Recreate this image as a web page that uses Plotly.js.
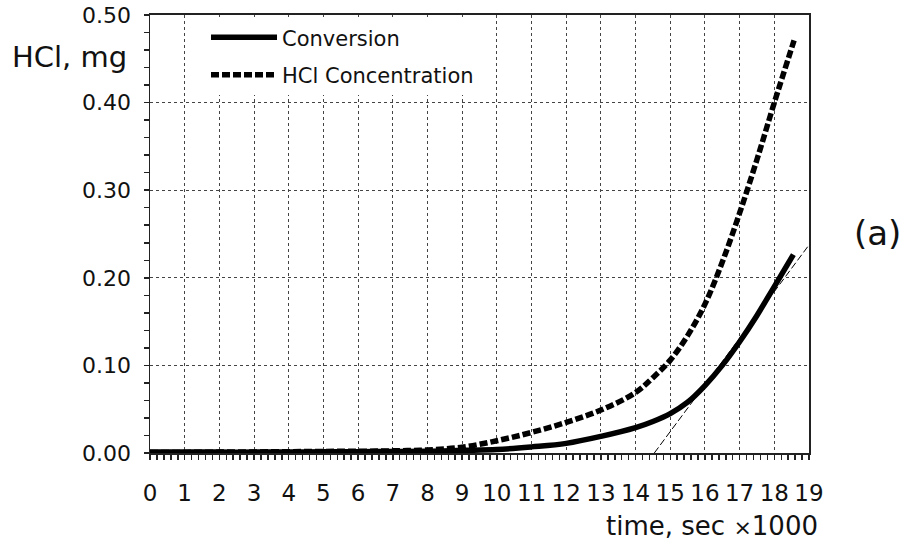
<!DOCTYPE html>
<html>
<head>
<meta charset="utf-8">
<script src="https://cdn.plot.ly/plotly-3.0.1.min.js"></script>
<style>
  html, body { margin: 0; padding: 0; background: #ffffff; }
  #chart { width: 912px; height: 549px; }
</style>
</head>
<body>
<div id="chart"></div>
<script>
// ---- data (time in sec x1000, HCl in mg) ----
const conversionTime = [0, 1, 2, 3, 4, 5, 6, 7, 8, 9, 10, 11, 12, 13, 14, 14.5, 15, 15.5, 16, 16.5, 17, 17.5, 18, 18.55];
const conversionHCl  = [0.001, 0.001, 0.001, 0.001, 0.0012, 0.0013, 0.0015, 0.0018, 0.002, 0.003, 0.004, 0.007, 0.011, 0.019, 0.029, 0.036, 0.045, 0.058, 0.077, 0.100, 0.127, 0.157, 0.190, 0.2265];

const concTime = [0, 1, 2, 3, 4, 5, 6, 7, 8, 9, 10, 11, 12, 13, 14, 14.5, 15, 15.5, 16, 16.5, 17, 17.5, 18, 18.57];
const concHCl  = [0.0005, 0.0007, 0.001, 0.0012, 0.0015, 0.0018, 0.002, 0.0025, 0.0035, 0.0066, 0.014, 0.0235, 0.035, 0.049, 0.069, 0.086, 0.106, 0.134, 0.170, 0.218, 0.274, 0.335, 0.400, 0.471];

const tangentTime = [14.54, 19.0];
const tangentHCl  = [0.0, 0.2375];

const xTickVals = [0, 1, 2, 3, 4, 5, 6, 7, 8, 9, 10, 11, 12, 13, 14, 15, 16, 17, 18, 19];
const yTickVals = [0, 0.1, 0.2, 0.3, 0.4, 0.5];
const seriesNames = ['Conversion', 'HCl Concentration'];

const FONT = 'DejaVu Sans, Liberation Sans, Arial, sans-serif';

const traces = [
  {
    x: conversionTime, y: conversionHCl, name: seriesNames[0],
    type: 'scatter', mode: 'lines', legendgroup: 'a',
    line: { color: '#000000', width: 5.5, shape: 'spline', smoothing: 1 }
  },
  {
    x: concTime, y: concHCl, name: seriesNames[1],
    type: 'scatter', mode: 'lines', legendgroup: 'b',
    line: { color: '#000000', width: 5.5, shape: 'spline', smoothing: 1, dash: '8px,3px' }
  },
  {
    x: tangentTime, y: tangentHCl, showlegend: false, hoverinfo: 'skip',
    type: 'scatter', mode: 'lines',
    line: { color: '#000000', width: 1, dash: '7px,3px' }
  }
];

const layout = {
  width: 912, height: 549,
  margin: { l: 150, r: 103, t: 15, b: 96, pad: 0 },
  paper_bgcolor: '#ffffff', plot_bgcolor: '#ffffff',
  font: { family: FONT, color: '#111111', size: 22 },
  showlegend: true,
  legend: {
    x: 0.085, y: 0.995, xanchor: 'left', yanchor: 'top',
    bgcolor: '#ffffff', borderwidth: 0,
    font: { family: FONT, size: 21, color: '#111111' },
    itemwidth: 66, traceorder: 'grouped', tracegroupgap: 7
  },
  xaxis: {
    range: [0, 19], tickvals: xTickVals, ticktext: xTickVals.map(String),
    showline: true, linecolor: '#222222', linewidth: 2, mirror: true,
    ticks: 'outside', ticklen: 5, tickwidth: 1.5, tickcolor: '#222222',
    minor: { dtick: 0.2, ticks: 'outside', ticklen: 5, tickwidth: 1.5, tickcolor: '#222222', showgrid: false },
    showgrid: true, gridcolor: '#444444', gridwidth: 1, griddash: 'dot',
    zeroline: false,
    tickfont: { family: FONT, size: 23, color: '#111111' },
    ticklabelstandoff: 13
  },
  yaxis: {
    range: [0, 0.5], tickvals: yTickVals, tickformat: '.2f',
    showline: true, linecolor: '#222222', linewidth: 1.5, mirror: true,
    ticks: 'outside', ticklen: 5, tickwidth: 1.5, tickcolor: '#222222',
    minor: { dtick: 0.02, ticks: 'outside', ticklen: 5, tickwidth: 1.5, tickcolor: '#222222', showgrid: false },
    showgrid: true, gridcolor: '#444444', gridwidth: 1, griddash: 'dot',
    zeroline: false,
    tickfont: { family: FONT, size: 22, color: '#111111' },
    ticklabelstandoff: 8
  },
  annotations: [
    {
      text: 'HCl, mg', xref: 'paper', yref: 'paper', x: -0.1214, y: 0.904,
      xanchor: 'center', yanchor: 'middle', showarrow: false,
      font: { family: FONT, size: 29, color: '#111111' }
    },
    {
      text: 'time, sec <span style="font-size:22px">×</span>1000', xref: 'paper', yref: 'paper', x: 1.0167, y: -0.166,
      xanchor: 'right', yanchor: 'middle', showarrow: false,
      font: { family: FONT, size: 26, color: '#111111' }
    },
    {
      text: '(a)', xref: 'paper', yref: 'paper', x: 1.1047, y: 0.502,
      xanchor: 'center', yanchor: 'middle', showarrow: false,
      font: { family: FONT, size: 34, color: '#111111' }
    }
  ]
};

Plotly.newPlot('chart', traces, layout, { displayModeBar: false, staticPlot: true });
</script>
</body>
</html>
